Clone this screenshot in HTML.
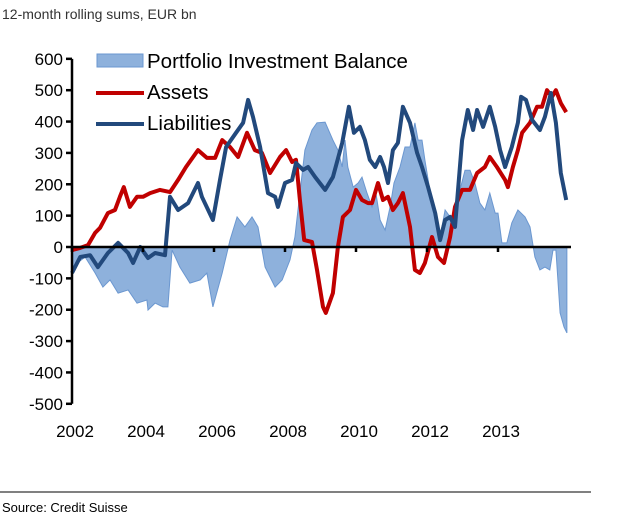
<!DOCTYPE html>
<html><head><meta charset="utf-8"><style>
body{margin:0;background:#fff;width:628px;height:527px;overflow:hidden;font-family:"Liberation Sans",Arial,sans-serif}
</style></head><body>
<svg id="chart" width="628" height="527" xmlns="http://www.w3.org/2000/svg" font-family="Liberation Sans, Arial, sans-serif">
<text x="2" y="19" font-size="14" fill="#333">12-month rolling sums, EUR bn</text>
<g id="plot"></g>
<line x1="0" y1="492" x2="591" y2="492" stroke="#000" stroke-width="1"/>
<text x="2" y="512" font-size="13" fill="#000">Source: Credit Suisse</text>
<g>
<rect x="97" y="54" width="46" height="13" fill="#8eb1dc" stroke="#6b97d0" stroke-width="1"/>
<text x="147" y="68" font-size="20.5">Portfolio Investment Balance</text>
<line x1="96" y1="93" x2="144" y2="93" stroke="#c00000" stroke-width="4"/>
<text x="147" y="99" font-size="20.5">Assets</text>
<line x1="96" y1="124" x2="144" y2="124" stroke="#22497c" stroke-width="4"/>
<text x="147" y="130" font-size="20.5">Liabilities</text>
</g>
</svg>
<script>
const yTicks=[600,500,400,300,200,100,0,-100,-200,-300,-400,-500];
const xTickYears=[2002,2004,2006,2008,2010,2012,2014];
const xTickLabels=["2002","2004","2006","2008","2010","2012","2013"];
const balDates=[2002.00,2002.37,2002.65,2002.87,2003.07,2003.30,2003.58,2003.83,2004.11,2004.14,2004.34,2004.56,2004.70,2004.82,2005.04,2005.32,2005.61,2005.80,2005.97,2006.23,2006.45,2006.65,2006.87,2007.07,2007.24,2007.44,2007.72,2007.92,2008.14,2008.28,2008.42,2008.56,2008.76,2008.90,2009.13,2009.35,2009.49,2009.61,2009.69,2009.77,2009.92,2010.06,2010.17,2010.31,2010.45,2010.56,2010.68,2010.82,2010.96,2011.07,2011.24,2011.38,2011.52,2011.66,2011.75,2011.86,2011.94,2012.08,2012.23,2012.37,2012.51,2012.65,2012.79,2012.93,2013.07,2013.21,2013.35,2013.49,2013.63,2013.77,2013.92,2014.00,2014.11,2014.25,2014.39,2014.56,2014.76,2014.90,2015.04,2015.18,2015.32,2015.46,2015.55,2015.63,2015.75,2015.86,2015.94];
const balValues=[-64,-32,-83,-128,-105,-147,-137,-179,-169,-201,-179,-191,-191,-10,-64,-115,-105,-83,-191,-83,22,96,64,96,64,-64,-128,-105,-41,32,172,309,373,396,398,341,309,255,341,255,191,204,223,172,128,172,86,54,128,204,255,319,319,396,341,341,277,182,86,32,118,96,77,182,245,245,204,140,118,172,108,108,13,13,77,118,96,64,-32,-73,-64,-73,-10,-10,-210,-255,-274];
const assetDates=[2002.00,2002.23,2002.45,2002.65,2002.79,2003.01,2003.21,2003.35,2003.46,2003.63,2003.83,2004.00,2004.20,2004.48,2004.76,2004.99,2005.21,2005.55,2005.80,2006.03,2006.23,2006.45,2006.68,2006.93,2007.15,2007.35,2007.58,2007.86,2008.03,2008.20,2008.31,2008.42,2008.54,2008.76,2008.90,2009.07,2009.15,2009.35,2009.49,2009.63,2009.83,2010.00,2010.17,2010.34,2010.45,2010.62,2010.76,2010.90,2011.04,2011.18,2011.32,2011.52,2011.66,2011.80,2011.94,2012.14,2012.31,2012.48,2012.65,2012.79,2012.99,2013.21,2013.41,2013.63,2013.77,2013.97,2014.20,2014.28,2014.42,2014.56,2014.68,2014.90,2015.10,2015.24,2015.38,2015.52,2015.63,2015.77,2015.92];
const assetValues=[-10,-3,6,45,61,108,118,160,191,128,160,160,172,182,175,214,255,309,284,284,341,319,287,364,309,300,236,287,309,271,278,150,22,16,-73,-191,-210,-147,0,96,118,182,150,140,140,204,150,160,118,140,172,64,-73,-83,-51,32,-32,-51,32,128,182,182,236,255,287,255,214,191,255,309,364,396,447,447,500,479,500,459,430];
const liabDates=[2002.00,2002.23,2002.51,2002.73,2003.01,2003.30,2003.58,2003.72,2003.92,2004.14,2004.34,2004.62,2004.76,2004.99,2005.27,2005.55,2005.66,2005.97,2006.17,2006.34,2006.62,2006.82,2006.96,2007.10,2007.30,2007.52,2007.72,2007.80,2008.00,2008.20,2008.31,2008.51,2008.65,2008.85,2009.13,2009.35,2009.61,2009.80,2009.94,2010.11,2010.25,2010.39,2010.54,2010.68,2010.79,2010.90,2011.04,2011.18,2011.32,2011.52,2011.72,2011.86,2012.03,2012.23,2012.37,2012.51,2012.65,2012.79,2012.99,2013.15,2013.30,2013.41,2013.58,2013.77,2013.92,2014.06,2014.20,2014.39,2014.56,2014.65,2014.79,2014.96,2015.18,2015.32,2015.49,2015.63,2015.77,2015.92];
const liabValues=[-83,-32,-26,-64,-19,13,-19,-51,0,-35,-19,-26,160,118,140,204,160,86,214,319,364,396,469,415,319,172,160,128,204,214,268,246,255,223,182,223,332,447,364,383,341,278,255,287,255,204,309,332,447,396,300,255,191,108,22,86,96,64,341,437,373,437,383,447,383,309,255,319,396,479,469,405,373,415,491,396,236,150];

const NS="http://www.w3.org/2000/svg";
const plot=document.getElementById('plot');
const X0=72,PX_PER_YEAR=35.5,Y0=247,PX_PER_UNIT=0.3136;
function xScale(yr){return X0+(yr-2002)*PX_PER_YEAR;}
function yScale(v){return Y0-v*PX_PER_UNIT;}
function mk(tag,attrs){const e=document.createElementNS(NS,tag);for(const k in attrs)e.setAttribute(k,attrs[k]);return e;}

let d='M'+xScale(balDates[0])+','+yScale(0);
balDates.forEach((t,i)=>{d+=' L'+xScale(t).toFixed(1)+','+yScale(balValues[i]).toFixed(1);});
d+=' L'+xScale(balDates[balDates.length-1])+','+yScale(0)+' Z';
const area=mk('path',{d:d,fill:'#8eb1dc',stroke:'#6b97d0','stroke-width':1});


plot.appendChild(area);

function line(dates,vals){
  return dates.map((t,i)=>(i?'L':'M')+xScale(t).toFixed(1)+','+yScale(vals[i]).toFixed(1)).join(' ');
}
const la=mk('path',{d:line(assetDates,assetValues),fill:'none',stroke:'#c00000','stroke-width':4,'stroke-linejoin':'round'});


plot.appendChild(la);
const ll=mk('path',{d:line(liabDates,liabValues),fill:'none',stroke:'#22497c','stroke-width':4,'stroke-linejoin':'round'});


plot.appendChild(ll);

const ya=mk('line',{x1:X0,y1:yScale(600),x2:X0,y2:yScale(-500),stroke:'#000','stroke-width':2.5});


plot.appendChild(ya);
yTicks.forEach(v=>{
  const t=mk('line',{x1:X0-6,y1:yScale(v),x2:X0,y2:yScale(v),stroke:'#000','stroke-width':2.5});
  
  
  plot.appendChild(t);
  const l=mk('text',{x:X0-9,y:yScale(v)+6,'text-anchor':'end','font-size':17});
  
  
  l.textContent=v;
  plot.appendChild(l);
});
const xa=mk('line',{x1:X0,y1:Y0,x2:571,y2:Y0,stroke:'#000','stroke-width':2.5});


plot.appendChild(xa);
xTickYears.forEach((yr,i)=>{
  const t=mk('line',{x1:xScale(yr),y1:Y0,x2:xScale(yr),y2:Y0+5,stroke:'#000','stroke-width':2.5});
  
  
  plot.appendChild(t);
  const l=mk('text',{x:xScale(yr)+3,y:437,'text-anchor':'middle','font-size':17});
  
  
  l.textContent=xTickLabels[i];
  plot.appendChild(l);
});
</script>
</body></html>
